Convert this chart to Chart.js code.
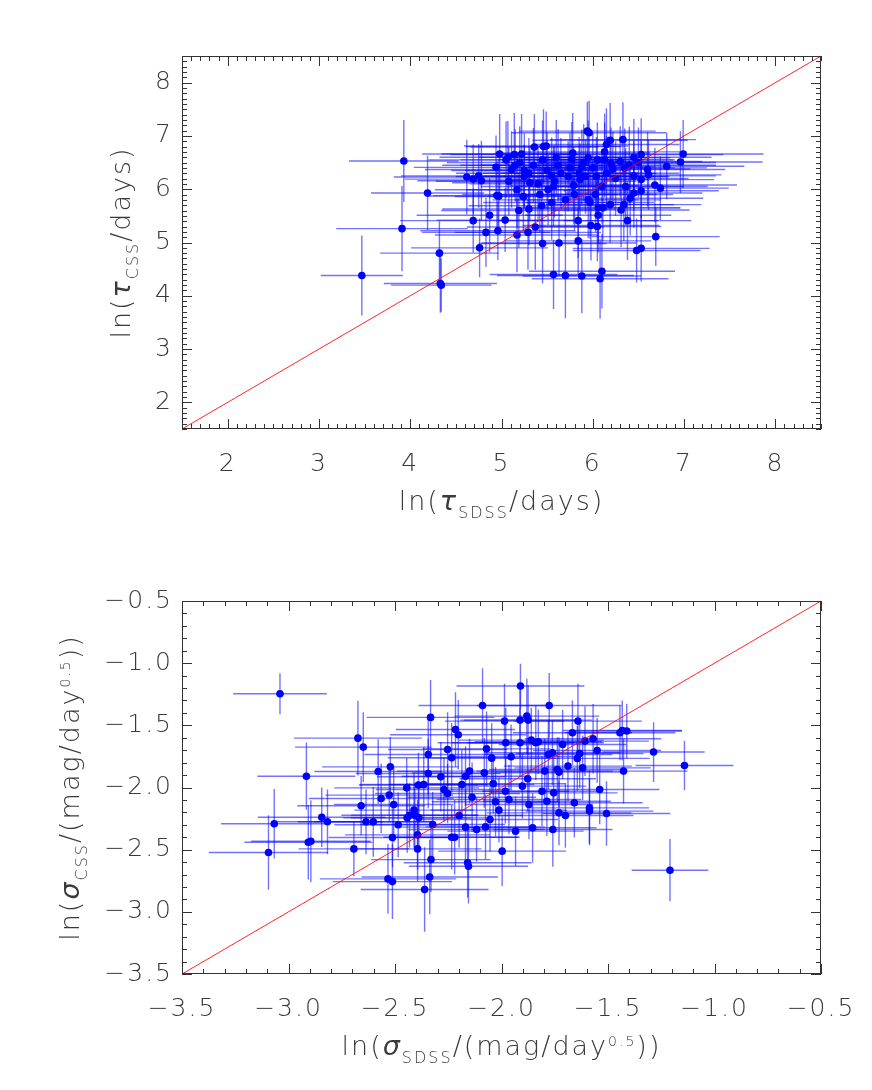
<!DOCTYPE html>
<html>
<head>
<meta charset="utf-8">
<script src="https://cdn.jsdelivr.net/npm/chart.js@4.4.1/dist/chart.umd.min.js"></script>
<style>
  html, body { margin: 0; padding: 0; background: #fff; }
  .panel { position: relative; width: 872px; height: 545px; }
  canvas { display: block; }
</style>
</head>
<body>
<div class="panel"><canvas id="tauChart" width="872" height="545"></canvas></div>
<div class="panel"><canvas id="sigmaChart" width="872" height="545"></canvas></div>
<script>
// Panel 1: ln(tau) SDSS vs CSS
const tauSdss = [3.47, 3.93, 3.91, 4.19, 4.32, 4.33, 4.34, 4.62, 4.69, 4.75, 4.78, 4.69, 4.76, 4.83, 4.87, 4.96, 5.04, 5.17, 4.98, 4.94,
  4.95, 4.97, 5.07, 5.11, 5.08, 5.19, 5.14, 5.22, 5.24, 5.17, 5.29, 5.36, 5.46, 5.49, 5.37, 5.45, 5.30, 5.44, 5.42, 5.51,
  5.25, 5.31, 5.57, 5.58, 5.57, 5.63, 5.70, 5.70, 5.73, 5.77, 5.78, 5.79, 5.84, 5.84, 5.86, 5.88, 5.92, 5.94, 5.96, 5.95,
  5.97, 5.95, 5.98, 6.03, 6.04, 6.05, 6.06, 6.06, 6.08, 6.10, 6.11, 6.13, 6.13, 6.15, 6.19, 6.19, 6.30, 6.31, 6.33, 6.34,
  6.36, 6.38, 6.41, 6.45, 6.48, 6.53, 6.53, 6.53, 6.53, 6.60, 6.61, 6.68, 6.69, 6.74, 6.81, 6.96, 6.99, 5.35, 5.50, 5.62,
  5.88, 6.00, 6.22, 6.40, 5.15, 5.40, 5.65, 6.25, 5.80, 5.55, 6.45, 5.30, 6.10, 5.05, 5.20, 5.45, 5.60, 5.75, 5.90, 6.05,
  6.20, 6.35, 6.50, 5.25, 5.55, 5.85, 6.15, 6.45]
const tauCss = [4.38, 6.53, 5.26, 5.93, 4.80, 4.23, 4.20, 6.23, 6.19, 6.25, 6.16, 5.41, 4.90, 5.19, 5.51, 5.22, 5.42, 5.14, 6.66, 6.41,
  5.88, 5.87, 6.60, 6.37, 6.15, 5.60, 6.65, 6.66, 5.86, 5.99, 5.19, 6.79, 6.80, 6.81, 5.29, 4.98, 5.63, 5.69, 5.90, 5.99,
  6.24, 6.12, 6.05, 6.15, 4.40, 4.99, 4.38, 5.80, 6.24, 6.56, 6.68, 6.07, 5.41, 5.03, 6.18, 4.37, 6.24, 7.09, 7.06, 5.80,
  5.75, 6.59, 5.32, 5.90, 6.24, 5.30, 5.65, 5.51, 4.32, 4.46, 5.65, 6.70, 6.55, 6.84, 6.92, 5.71, 6.52, 5.61, 6.93, 5.71,
  6.05, 5.41, 5.83, 5.93, 4.85, 4.89, 5.97, 6.18, 6.65, 6.37, 6.27, 6.08, 5.11, 6.02, 6.43, 6.51, 6.66, 6.45, 6.35, 6.45,
  6.42, 6.40, 6.38, 6.45, 6.45, 6.10, 6.30, 6.20, 5.90, 5.75, 6.60, 6.30, 6.05, 6.55, 6.50, 6.55, 6.60, 6.40, 6.50, 6.55,
  6.48, 6.40, 6.50, 6.35, 6.25, 6.30, 6.30, 6.25]
const tauSdssErr = [0.45, 0.60, 0.72, 0.62, 0.65, 0.62, 0.55, 0.80, 0.75, 0.85, 0.70, 0.80, 0.75, 0.70, 0.80, 0.85, 0.75, 0.90, 0.85, 0.90,
  0.70, 0.80, 0.75, 0.95, 0.80, 0.85, 0.70, 0.88, 0.75, 0.90, 0.80, 0.70, 0.85, 0.90, 0.75, 0.70, 0.95, 0.80, 0.85, 0.90,
  0.75, 0.85, 0.80, 0.90, 0.70, 0.85, 0.75, 0.80, 0.95, 0.80, 0.85, 0.70, 0.88, 0.80, 0.75, 0.65, 0.90, 0.75, 0.85, 0.80,
  0.70, 0.90, 0.75, 0.85, 0.80, 0.70, 0.90, 0.80, 0.75, 0.80, 0.85, 0.90, 0.75, 0.80, 0.85, 0.70, 0.90, 0.75, 0.80, 0.85,
  0.90, 0.70, 0.80, 0.75, 0.70, 0.75, 0.85, 0.80, 0.90, 0.85, 0.80, 0.90, 0.70, 0.75, 0.85, 0.90, 0.88, 0.80, 0.90, 0.85,
  0.80, 0.90, 0.85, 0.95, 0.80, 0.75, 0.85, 0.80, 0.90, 0.75, 0.85, 0.80, 0.90, 0.85, 0.80, 0.90, 0.85, 0.80, 0.90, 0.85,
  0.80, 0.90, 0.85, 0.80, 0.75, 0.85, 0.80, 0.90]
const tauCssErr = [0.75, 0.77, 0.80, 0.70, 0.60, 0.55, 0.50, 0.70, 0.65, 0.60, 0.75, 0.60, 0.55, 0.65, 0.70, 0.55, 0.60, 0.70, 0.75, 0.60,
  0.65, 0.70, 0.68, 0.72, 0.64, 0.70, 0.78, 0.75, 0.66, 0.72, 0.70, 0.62, 0.70, 0.65, 0.80, 0.75, 0.68, 0.72, 0.70, 0.66,
  0.60, 0.70, 0.74, 0.68, 0.65, 0.62, 0.80, 0.70, 0.66, 0.70, 0.75, 0.72, 0.70, 0.62, 0.68, 0.70, 0.70, 0.55, 0.60, 0.72,
  0.68, 0.70, 0.66, 0.70, 0.74, 0.65, 0.68, 0.70, 0.75, 0.70, 0.62, 0.72, 0.70, 0.68, 0.70, 0.72, 0.66, 0.70, 0.70, 0.68,
  0.72, 0.74, 0.70, 0.66, 0.60, 0.62, 0.70, 0.72, 0.68, 0.70, 0.66, 0.70, 0.55, 0.60, 0.62, 0.58, 0.64, 0.70, 0.72, 0.68,
  0.70, 0.66, 0.70, 0.72, 0.68, 0.70, 0.66, 0.70, 0.68, 0.70, 0.72, 0.66, 0.70, 0.72, 0.68, 0.74, 0.70, 0.66, 0.72, 0.70,
  0.68, 0.74, 0.66, 0.70, 0.72, 0.68, 0.70, 0.66]
const tauTicks = [2, 3, 4, 5, 6, 7, 8]
const tauRange = [1.5, 8.5]

// Panel 2: ln(sigma) SDSS vs CSS
const sigSdss = [-3.04, -3.094, -3.067, -2.916, -2.907, -2.895, -2.844, -2.817, -2.674, -2.649, -2.693, -2.659, -2.636, -2.602, -2.579,
  -2.565, -2.527, -2.522, -2.506, -2.512, -2.533, -2.512, -2.485, -2.445, -2.443, -2.432, -2.411, -2.407, -2.394, -2.394,
  -2.388, -2.365, -2.39, -2.344, -2.344, -2.333, -2.331, -2.337, -2.361, -2.323, -2.285, -2.27, -2.253, -2.253, -2.234,
  -2.234, -2.22, -2.216, -2.203, -2.199, -2.186, -2.169, -2.169, -2.159, -2.155, -2.15, -2.138, -2.117, -2.089, -2.081,
  -2.07, -2.054, -2.046, -2.075, -2.039, -2.028, -2.012, -1.997, -1.986, -1.98, -1.982, -1.965, -1.955, -1.934, -1.911,
  -1.913, -1.913, -1.902, -1.881, -1.875, -1.877, -1.871, -1.86, -1.854, -1.839, -1.827, -1.81, -1.797, -1.787, -1.776,
  -1.78, -1.761, -1.755, -1.759, -1.738, -1.73, -1.73, -1.713, -1.70, -1.688, -1.667, -1.658, -1.641, -1.644, -1.633,
  -1.619, -1.608, -1.587, -1.587, -1.57, -1.551, -1.539, -1.507, -1.444, -1.433, -1.412, -1.427, -1.286, -1.141, -1.209]
const sigCss = [-1.246, -2.523, -2.292, -1.909, -2.44, -2.432, -2.239, -2.276, -1.603, -1.675, -2.494, -2.147, -2.276, -2.276, -1.871,
  -2.088, -2.061, -1.834, -2.137, -2.402, -2.735, -2.757, -2.30, -2.003, -2.244, -2.223, -2.182, -2.222, -2.381, -2.494,
  -2.244, -1.976, -1.98, -1.734, -1.887, -1.436, -2.58, -2.72, -2.82, -2.297, -1.914, -2.016, -1.694, -2.048, -1.761,
  -2.40, -2.40, -1.533, -1.576, -2.225, -1.976, -1.909, -2.319, -2.605, -2.633, -1.868, -2.078, -2.338, -1.34, -1.882,
  -1.689, -2.257, -1.764, -2.317, -1.97, -2.115, -2.182, -2.512, -1.466, -1.64, -2.03, -2.097, -1.753, -2.351, -1.184,
  -1.458, -1.64, -1.989, -1.426, -1.458, -1.93, -2.137, -1.619, -2.324, -1.64, -1.632, -2.03, -1.868, -2.11, -1.34,
  -1.734, -1.721, -2.043, -2.338, -1.855, -1.876, -2.204, -1.654, -2.225, -1.828, -1.56, -2.123, -1.466, -1.766, -1.726,
  -1.842, -1.627, -2.164, -2.19, -1.608, -1.702, -2.016, -2.209, -1.56, -1.541, -1.546, -1.868, -1.715, -1.823, -2.665]
const sigSdssErr = [0.22, 0.28, 0.25, 0.23, 0.30, 0.28, 0.30, 0.26, 0.30, 0.32, 0.26, 0.30, 0.32, 0.28, 0.30,
  0.34, 0.30, 0.32, 0.28, 0.30, 0.32, 0.28, 0.30, 0.34, 0.30, 0.32, 0.28, 0.30, 0.34, 0.30,
  0.32, 0.30, 0.28, 0.30, 0.34, 0.30, 0.28, 0.32, 0.30, 0.34, 0.30, 0.32, 0.28, 0.34, 0.30,
  0.32, 0.30, 0.28, 0.32, 0.30, 0.34, 0.30, 0.32, 0.30, 0.28, 0.34, 0.30, 0.32, 0.30, 0.34,
  0.30, 0.32, 0.30, 0.28, 0.34, 0.30, 0.32, 0.30, 0.28, 0.32, 0.30, 0.34, 0.30, 0.32, 0.30,
  0.28, 0.32, 0.30, 0.34, 0.30, 0.32, 0.30, 0.34, 0.30, 0.32, 0.30, 0.28, 0.32, 0.30, 0.34,
  0.30, 0.32, 0.30, 0.28, 0.32, 0.30, 0.34, 0.30, 0.32, 0.30, 0.28, 0.32, 0.30, 0.34, 0.30,
  0.32, 0.30, 0.28, 0.30, 0.32, 0.30, 0.28, 0.30, 0.26, 0.28, 0.26, 0.30, 0.24, 0.23, 0.18]
const sigCssErr = [0.165, 0.30, 0.28, 0.27, 0.30, 0.33, 0.24, 0.26, 0.30, 0.28, 0.22, 0.24, 0.26, 0.28, 0.26,
  0.28, 0.22, 0.24, 0.30, 0.24, 0.28, 0.30, 0.26, 0.24, 0.28, 0.26, 0.30, 0.26, 0.28, 0.26,
  0.24, 0.30, 0.26, 0.32, 0.28, 0.30, 0.26, 0.30, 0.34, 0.26, 0.28, 0.26, 0.30, 0.24, 0.28,
  0.26, 0.30, 0.30, 0.28, 0.26, 0.28, 0.24, 0.30, 0.28, 0.30, 0.26, 0.28, 0.26, 0.30, 0.28,
  0.30, 0.26, 0.28, 0.26, 0.24, 0.28, 0.26, 0.28, 0.30, 0.28, 0.26, 0.28, 0.26, 0.28, 0.18,
  0.30, 0.28, 0.26, 0.30, 0.28, 0.26, 0.28, 0.26, 0.28, 0.30, 0.26, 0.28, 0.26, 0.28, 0.26,
  0.28, 0.26, 0.28, 0.30, 0.26, 0.28, 0.26, 0.28, 0.26, 0.28, 0.26, 0.28, 0.30, 0.26, 0.28,
  0.26, 0.28, 0.30, 0.26, 0.28, 0.26, 0.28, 0.26, 0.22, 0.24, 0.22, 0.26, 0.24, 0.20, 0.25]
const sigTicks = [-3.5, -3.0, -2.5, -2.0, -1.5, -1.0, -0.5]
const sigRange = [-3.5, -0.5]

// Look
const FAMILY = "'DejaVu Sans', sans-serif"
const TICK_FONT = { family: FAMILY, size: 25, weight: 200 }
const TITLE_SIZE = 27
const TEXT_COLOR = "#3a3a3a"
const BAR_COLOR = "rgba(0, 0, 255, 0.55)"
const POINT_COLOR = "rgb(0, 0, 255)"
const SPACING = "2px"

function fmtTau(v) {
  return String(v)
}

function fmtSig(v) {
  return v.toFixed(1).replace("-", "\u2212")
}

// Draws a run of text pieces (base, italic, sub/superscript) centred on (x, y)
function drawRich(ctx, parts, x, y, angle) {
  ctx.save()
  ctx.translate(x, y)
  ctx.rotate(angle)
  ctx.fillStyle = TEXT_COLOR
  ctx.textBaseline = "alphabetic"
  ctx.textAlign = "left"
  let total = 0
  parts.forEach((p) => {
    ctx.font = p.font
    p.w = ctx.measureText(p.text).width
    total += p.w
  })
  let cx = -total / 2
  parts.forEach((p) => {
    ctx.font = p.font
    ctx.fillText(p.text, cx, p.dy || 0)
    cx += p.w
  })
  ctx.restore()
}

const base = `200 ${TITLE_SIZE}px ${FAMILY}`
const greek = `italic 200 ${TITLE_SIZE}px ${FAMILY}`
const small = `200 16px ${FAMILY}`
const tiny = `200 14px ${FAMILY}`

const errorBarPlugin = {
  id: "errorBars",
  beforeDraw(chart) {
    chart.ctx.letterSpacing = SPACING
  },
  beforeDatasetsDraw(chart, args, opts) {
    const { ctx, scales } = chart
    const xs = scales.x
    const ys = scales.y
    ctx.save()
    ctx.beginPath()
    ctx.rect(chart.chartArea.left, chart.chartArea.top, chart.chartArea.width, chart.chartArea.height)
    ctx.clip()
    ctx.strokeStyle = BAR_COLOR
    ctx.lineWidth = 1.4
    opts.x.forEach((xv, i) => {
      const yv = opts.y[i]
      const px = xs.getPixelForValue(xv)
      const py = ys.getPixelForValue(yv)
      ctx.beginPath()
      ctx.moveTo(xs.getPixelForValue(xv - opts.xErr[i]), py)
      ctx.lineTo(xs.getPixelForValue(xv + opts.xErr[i]), py)
      ctx.moveTo(px, ys.getPixelForValue(yv - opts.yErr[i]))
      ctx.lineTo(px, ys.getPixelForValue(yv + opts.yErr[i]))
      ctx.stroke()
    })
    ctx.restore()
  },
  afterDatasetsDraw(chart) {
    // one-to-one line, corner to corner
    const { ctx, scales } = chart
    ctx.save()
    ctx.strokeStyle = "rgba(255, 0, 0, 0.85)"
    ctx.lineWidth = 1
    ctx.beginPath()
    ctx.moveTo(scales.x.getPixelForValue(scales.x.min), scales.y.getPixelForValue(scales.y.min))
    ctx.lineTo(scales.x.getPixelForValue(scales.x.max), scales.y.getPixelForValue(scales.y.max))
    ctx.stroke()
    ctx.restore()
  },
}

const framePlugin = {
  id: "frame",
  afterDraw(chart, args, opts) {
    const { ctx, chartArea: a, scales } = chart
    ctx.save()
    ctx.strokeStyle = "#333"
    ctx.lineWidth = 1
    ctx.strokeRect(a.left + 0.5, a.top + 0.5, a.width - 1, a.height - 1)
    ctx.beginPath()
    // minor every 0.1, major on the labelled ticks
    const step = 0.1
    const marks = (scale, majors) => {
      const out = []
      for (let k = Math.ceil(scale.min / step - 1e-6); k <= Math.floor(scale.max / step + 1e-6); k++) {
        const v = k * step
        const isMajor = majors.some((m) => Math.abs(m - v) < 1e-6)
        out.push({ p: Math.round(scale.getPixelForValue(v)) + 0.5, len: isMajor ? 10 : 5 })
      }
      return out
    }
    marks(scales.x, opts.xTicks).forEach((m) => {
      ctx.moveTo(m.p, a.bottom)
      ctx.lineTo(m.p, a.bottom - m.len)
      ctx.moveTo(m.p, a.top)
      ctx.lineTo(m.p, a.top + m.len)
    })
    marks(scales.y, opts.yTicks).forEach((m) => {
      ctx.moveTo(a.left, m.p)
      ctx.lineTo(a.left + m.len, m.p)
      ctx.moveTo(a.right, m.p)
      ctx.lineTo(a.right - m.len, m.p)
    })
    ctx.stroke()
    ctx.restore()

    // axis titles
    drawRich(ctx, opts.xTitle, (a.left + a.right) / 2, 510, 0)
    drawRich(ctx, opts.yTitle, opts.yTitleX, (a.top + a.bottom) / 2, -Math.PI / 2)
  },
}

function makeChart(canvasId, xv, yv, xe, ye, range, ticks, fmt, xTitle, yTitle, yTitleX) {
  const ctx = document.getElementById(canvasId).getContext("2d")
  const axis = (pos) => ({
    type: "linear",
    position: pos,
    min: range[0],
    max: range[1],
    grid: { display: false, drawTicks: false },
    border: { display: false },
    afterBuildTicks: (scale) => {
      scale.ticks = ticks.map((v) => ({ value: v }))
    },
    afterFit: (scale) => {
      if (pos === "bottom") scale.height = 116
      else scale.width = 182
    },
    ticks: {
      font: TICK_FONT,
      color: TEXT_COLOR,
      padding: pos === "bottom" ? 20 : 9,
      maxRotation: 0,
      autoSkip: false,
      callback: (v) => fmt(v),
    },
  })
  return new Chart(ctx, {
    type: "scatter",
    data: {
      datasets: [
        {
          data: xv.map((v, i) => ({ x: v, y: yv[i] })),
          backgroundColor: POINT_COLOR,
          borderWidth: 0,
          pointRadius: 3.8,
        },
      ],
    },
    options: {
      responsive: false,
      animation: false,
      layout: { padding: { top: 56, right: 51, left: 0, bottom: 0 } },
      scales: { x: axis("bottom"), y: axis("left") },
      plugins: {
        legend: { display: false },
        tooltip: { enabled: false },
        errorBars: { x: xv, y: yv, xErr: xe, yErr: ye },
        frame: { xTicks: ticks, yTicks: ticks, xTitle: xTitle, yTitle: yTitle, yTitleX: yTitleX },
      },
    },
    plugins: [errorBarPlugin, framePlugin],
  })
}

document.fonts.load(base).then(() => {
  makeChart("tauChart", tauSdss, tauCss, tauSdssErr, tauCssErr, tauRange, tauTicks, fmtTau,
    [{ text: "ln(", font: base }, { text: "\u03C4", font: greek }, { text: "SDSS", font: small, dy: 8 }, { text: "/days)", font: base }],
    [{ text: "ln(", font: base }, { text: "\u03C4", font: greek }, { text: "CSS", font: small, dy: 8 }, { text: "/days)", font: base }],
    130)
  makeChart("sigmaChart", sigSdss, sigCss, sigSdssErr, sigCssErr, sigRange, sigTicks, fmtSig,
    [{ text: "ln(", font: base }, { text: "\u03C3", font: greek }, { text: "SDSS", font: small, dy: 8 },
      { text: "/(mag/day", font: base }, { text: "0.5", font: tiny, dy: -9 }, { text: "))", font: base }],
    [{ text: "ln(", font: base }, { text: "\u03C3", font: greek }, { text: "CSS", font: small, dy: 8 },
      { text: "/(mag/day", font: base }, { text: "0.5", font: tiny, dy: -9 }, { text: "))", font: base }],
    79)
})
</script>
</body>
</html>
